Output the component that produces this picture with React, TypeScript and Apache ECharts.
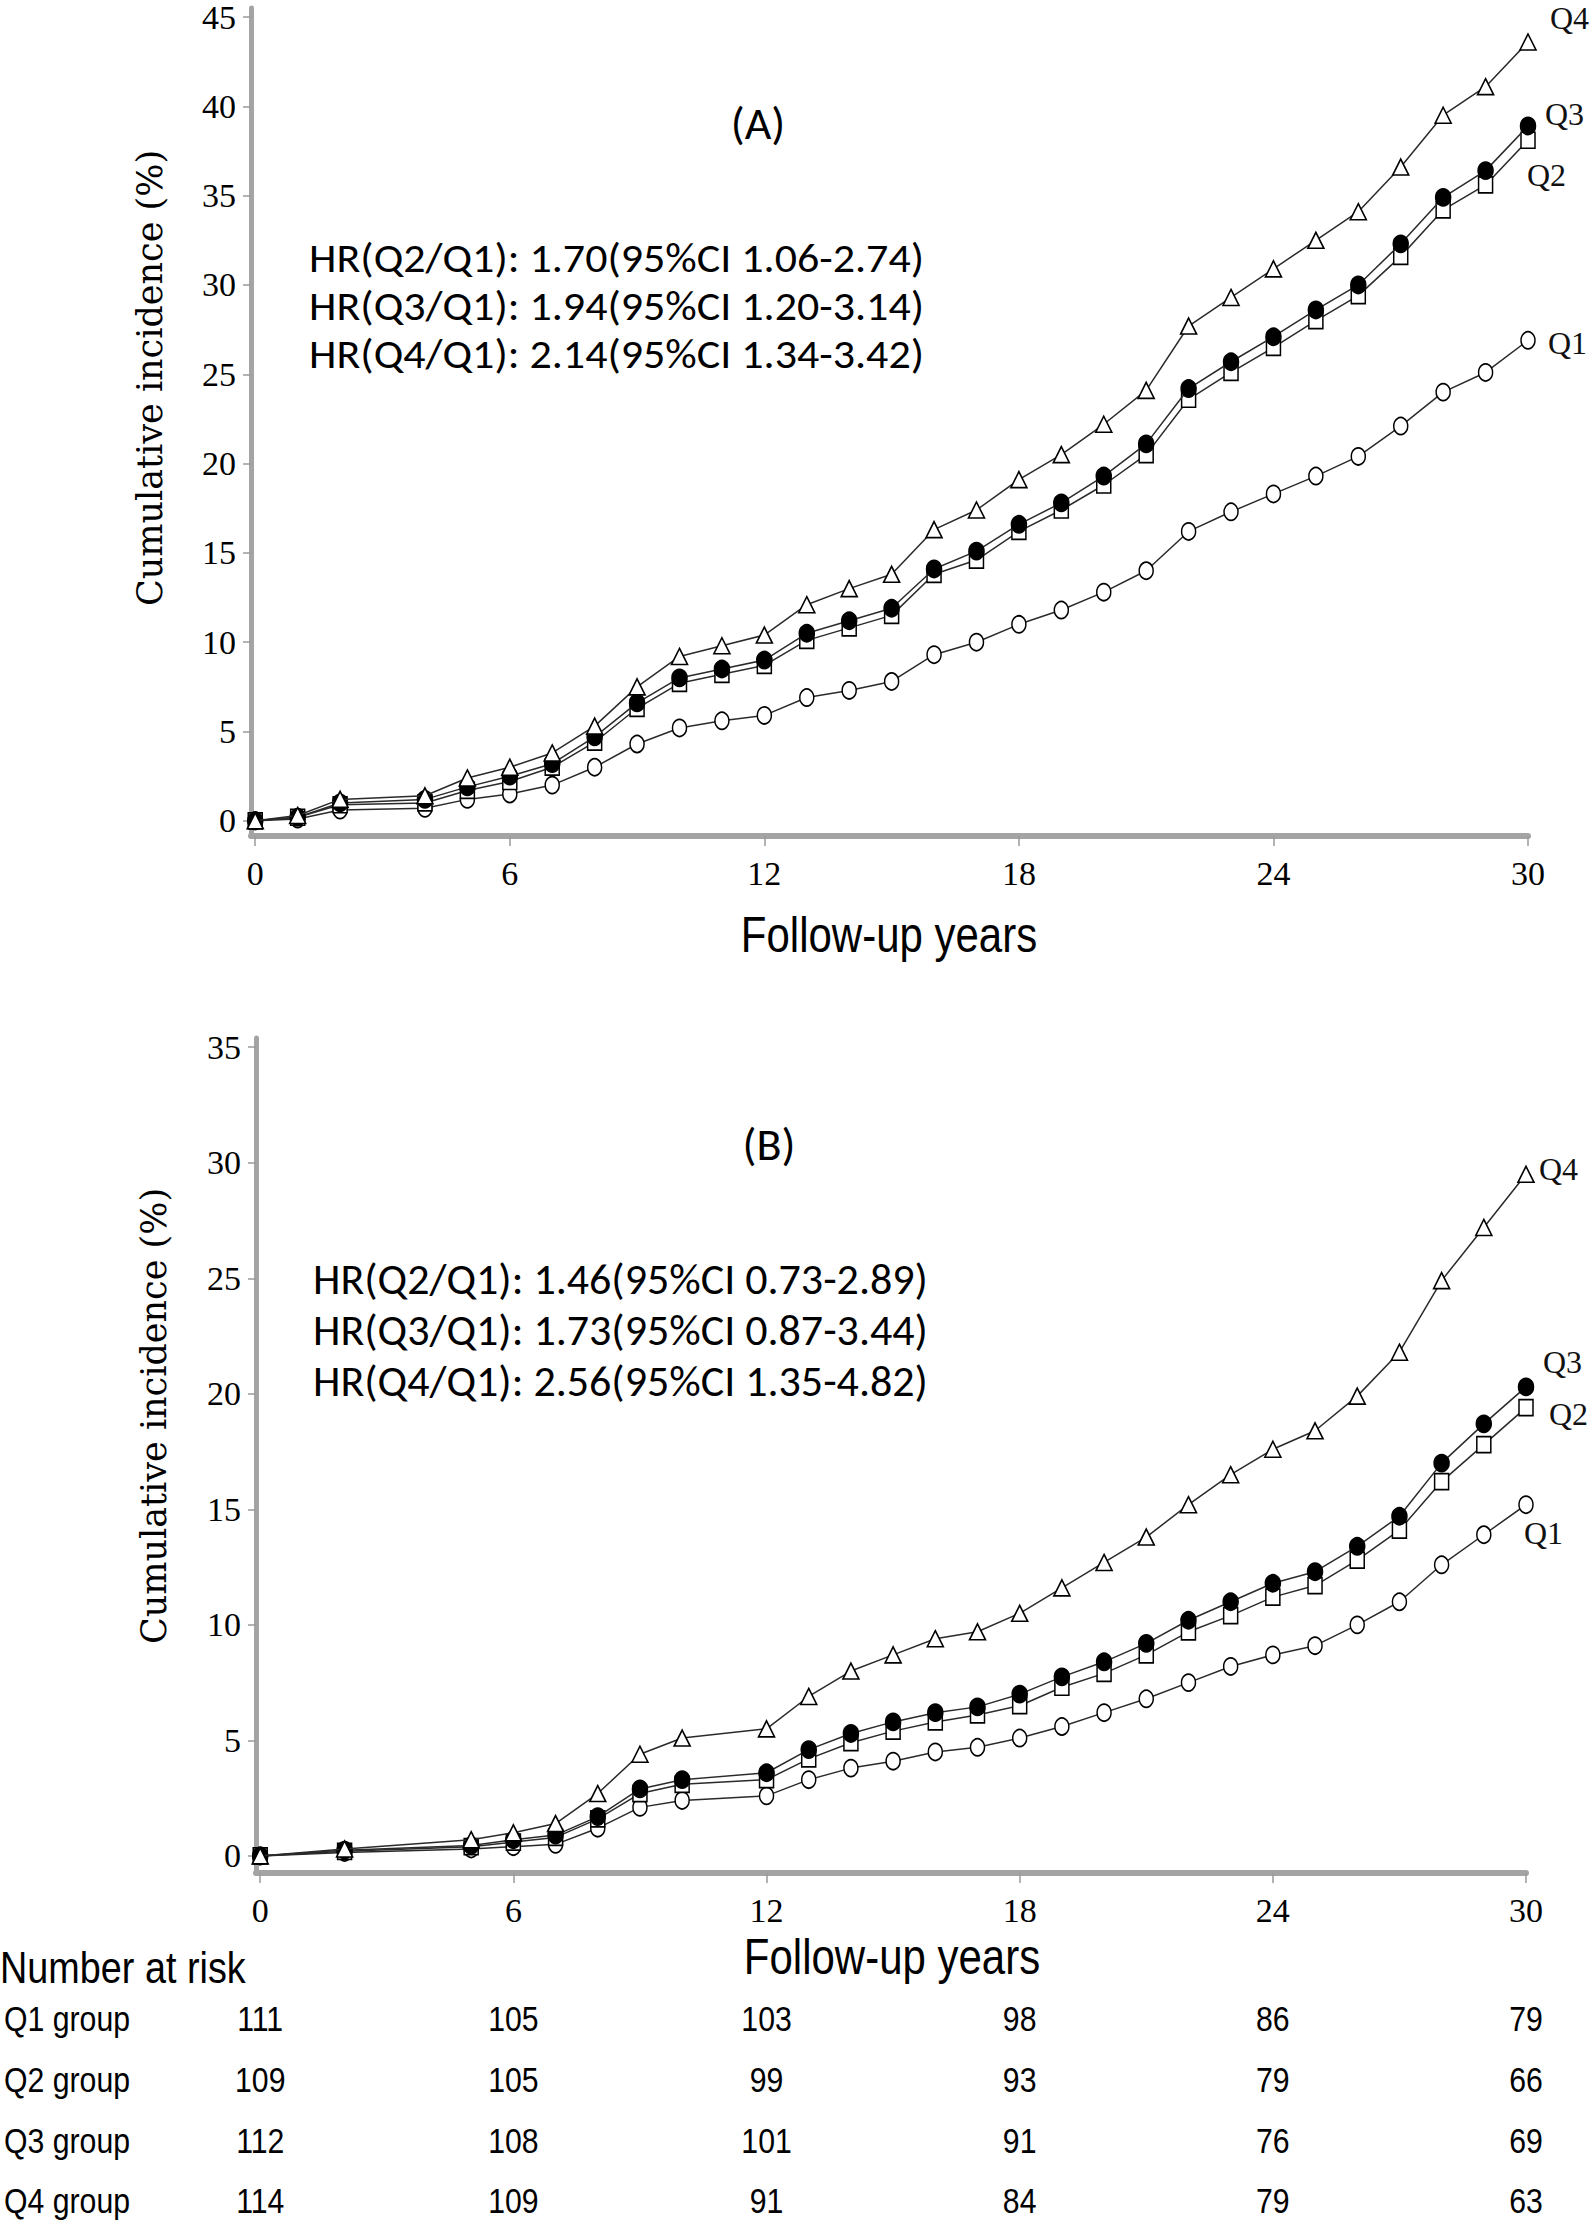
import React, { useEffect, useRef } from "react";
import * as echarts from "echarts";

// ---------------- data ----------------
const yearsA = [0, 1, 2, 4, 5, 6, 7, 8, 9, 10, 11, 12, 13, 14, 15, 16, 17, 18, 19, 20, 21, 22, 23, 24, 25, 26, 27, 28, 29, 30];
const q1A = [0, 0.1, 0.6, 0.7, 1.2, 1.5, 2.0, 3.0, 4.3, 5.2, 5.6, 5.9, 6.9, 7.3, 7.8, 9.3, 10.0, 11.0, 11.8, 12.8, 14.0, 16.2, 17.3, 18.3, 19.3, 20.4, 22.1, 24.0, 25.1, 26.9];
const q2A = [0, 0.2, 0.9, 1.0, 1.7, 2.2, 3.0, 4.4, 6.3, 7.7, 8.2, 8.7, 10.1, 10.8, 11.5, 13.8, 14.6, 16.2, 17.4, 18.8, 20.5, 23.6, 25.1, 26.5, 28.0, 29.4, 31.6, 34.2, 35.6, 38.1];
const q3A = [0, 0.2, 1.0, 1.2, 1.9, 2.5, 3.2, 4.7, 6.6, 8.0, 8.5, 9.0, 10.5, 11.2, 11.9, 14.1, 15.1, 16.6, 17.8, 19.3, 21.1, 24.2, 25.7, 27.1, 28.6, 30.0, 32.3, 34.9, 36.4, 38.9];
const q4A = [0, 0.3, 1.2, 1.4, 2.4, 3.0, 3.8, 5.3, 7.5, 9.2, 9.8, 10.4, 12.1, 13.0, 13.8, 16.3, 17.4, 19.1, 20.5, 22.2, 24.1, 27.7, 29.3, 30.9, 32.5, 34.1, 36.6, 39.5, 41.1, 43.6];

const yearsB = [0, 2, 5, 6, 7, 8, 9, 10, 12, 13, 14, 15, 16, 17, 18, 19, 20, 21, 22, 23, 24, 25, 26, 27, 28, 29, 30];
const q1B = [0, 0.15, 0.3, 0.4, 0.5, 1.2, 2.1, 2.4, 2.6, 3.3, 3.8, 4.1, 4.5, 4.7, 5.1, 5.6, 6.2, 6.8, 7.5, 8.2, 8.7, 9.1, 10.0, 11.0, 12.6, 13.9, 15.2];
const q2B = [0, 0.2, 0.4, 0.6, 0.8, 1.6, 2.7, 3.1, 3.3, 4.2, 4.9, 5.4, 5.8, 6.1, 6.5, 7.3, 7.9, 8.7, 9.7, 10.4, 11.2, 11.7, 12.8, 14.1, 16.2, 17.8, 19.4];
const q3B = [0, 0.25, 0.45, 0.7, 0.9, 1.7, 2.9, 3.3, 3.6, 4.6, 5.3, 5.8, 6.2, 6.45, 7.0, 7.75, 8.4, 9.2, 10.2, 11.0, 11.8, 12.3, 13.4, 14.7, 17.0, 18.7, 20.3];
const q4B = [0, 0.3, 0.7, 1.0, 1.4, 2.7, 4.4, 5.1, 5.5, 6.9, 8.0, 8.7, 9.4, 9.7, 10.5, 11.6, 12.7, 13.8, 15.2, 16.5, 17.6, 18.4, 19.9, 21.8, 24.9, 27.2, 29.5];

const groupNames = ["Q1", "Q2", "Q3", "Q4"];
const xTicks = [0, 6, 12, 18, 24, 30];
const yTicksA = [0, 5, 10, 15, 20, 25, 30, 35, 40, 45];
const yTicksB = [0, 5, 10, 15, 20, 25, 30, 35];

const hrTextA = [
  "HR(Q2/Q1): 1.70(95%CI 1.06-2.74)",
  "HR(Q3/Q1): 1.94(95%CI 1.20-3.14)",
  "HR(Q4/Q1): 2.14(95%CI 1.34-3.42)",
];
const hrTextB = [
  "HR(Q2/Q1): 1.46(95%CI 0.73-2.89)",
  "HR(Q3/Q1): 1.73(95%CI 0.87-3.44)",
  "HR(Q4/Q1): 2.56(95%CI 1.35-4.82)",
];

const riskYears = [0, 6, 12, 18, 24, 30];
const riskRowLabels = ["Q1 group", "Q2 group", "Q3 group", "Q4 group"];
const q1Risk = [111, 105, 103, 98, 86, 79];
const q2Risk = [109, 105, 99, 93, 79, 66];
const q3Risk = [112, 108, 101, 91, 76, 69];
const q4Risk = [114, 109, 91, 84, 79, 63];

// ---------------- styles ----------------
const SERIF = "'Liberation Serif', 'Times New Roman', serif";
const TITLE_SERIF = "'DejaVu Serif', 'Liberation Serif', serif";
const NARROW = "'Liberation Sans Narrow', 'Arial Narrow', 'Liberation Sans', Arial, sans-serif";
const SANS = "Carlito, Lato, 'Noto Sans', sans-serif";
const CONDENSE = 0.84;

const markers = [
  { symbol: "circle", size: [14, 17], fill: "#ffffff" },
  { symbol: "rect", size: [14, 16], fill: "#ffffff" },
  { symbol: "circle", size: [15, 17], fill: "#000000" },
  { symbol: "triangle", size: [16, 16], fill: "#ffffff" },
];

const endOffsetsA = [
  [12, 3],
  [-9, 35],
  [9, -12],
  [14, -24],
];
const endOffsetsB = [
  [-10, 28],
  [15, 6],
  [9, -25],
  [5, -5],
];

function pairs(xs: number[], ys: number[]) {
  return xs.map((x, i) => [x, ys[i]]);
}

function xAxisFor(gridIndex: number) {
  return {
    type: "value",
    gridIndex,
    min: -0.1,
    max: 30,
    axisLine: { show: true, onZero: false, lineStyle: { color: "#a4a4a4", width: 6 } },
    axisTick: { show: true, customValues: xTicks, length: 10, lineStyle: { color: "#9a9a9a", width: 1.5 } },
    axisLabel: { customValues: xTicks, margin: 20, fontFamily: SERIF, fontSize: 34, color: "#000" },
    splitLine: { show: false },
  };
}

function yAxisFor(gridIndex: number, min: number, max: number, ticks: number[]) {
  return {
    type: "value",
    gridIndex,
    min,
    max,
    axisLine: { show: true, onZero: false, lineStyle: { color: "#a4a4a4", width: 5 } },
    axisTick: { show: true, customValues: ticks, length: 8, lineStyle: { color: "#9a9a9a", width: 1.5 } },
    axisLabel: { customValues: ticks, margin: 15, fontFamily: SERIF, fontSize: 34, color: "#000" },
    splitLine: { show: false },
  };
}

function panelSeries(gridIdx: number, xs: number[], ys: number[][], offsets: number[][]) {
  return ys.map((vals, g) => ({
    type: "line",
    name: groupNames[g] + (gridIdx === 0 ? "A" : "B"),
    xAxisIndex: gridIdx,
    yAxisIndex: gridIdx,
    data: pairs(xs, vals),
    symbol: markers[g].symbol,
    symbolSize: markers[g].size,
    showAllSymbol: true,
    lineStyle: { color: "#2a2a2a", width: 1.5 },
    itemStyle: { color: markers[g].fill, borderColor: "#000", borderWidth: 1.6 },
    z: 3 + g,
    endLabel: {
      show: true,
      formatter: groupNames[g],
      distance: 8,
      offset: offsets[g],
      fontFamily: SERIF,
      fontSize: 32,
      color: "#111",
    },
  }));
}

export default function App() {
  const ref = useRef<HTMLDivElement>(null);

  useEffect(() => {
    if (!ref.current) return;
    const chart = echarts.init(ref.current, null, { renderer: "svg" });

    const riskRows = [q1Risk, q2Risk, q3Risk, q4Risk];
    const tableData = riskRows.map((row, r) => [0, r, ...row]);

    const textG = (x: number, y: number, text: string, font: string, size: number, align: string, extra: any = {}, lineHeight?: number) => ({
      type: "text",
      x,
      y,
      ...extra,
      style: {
        text,
        fontFamily: font,
        fontSize: size,
        fill: "#000",
        align,
        verticalAlign: "middle",
        ...(lineHeight ? { lineHeight } : {}),
      },
    });

    const hrGraphics: any[] = [];
    hrTextA.forEach((t, i) =>
      hrGraphics.push(textG(309, 258 + i * 48, t, SANS, 41, "left", { scaleX: 1.073 }, 41))
    );
    hrTextB.forEach((t, i) =>
      hrGraphics.push(textG(313, 1280 + i * 51, t, SANS, 43, "left", { scaleX: 1.023 }, 43))
    );

    const option: any = {
      animation: false,
      backgroundColor: "#ffffff",
      grid: [
        { left: 251, top: 8, width: 1277, height: 828 },
        { left: 256, top: 1038, width: 1270, height: 835 },
        { left: 256, top: 2019, width: 1270, height: 182 },
      ],
      xAxis: [
        xAxisFor(0),
        xAxisFor(1),
        { type: "value", gridIndex: 2, min: -0.1, max: 30, show: false },
      ],
      yAxis: [
        yAxisFor(0, -0.85, 45.5, yTicksA),
        yAxisFor(1, -0.74, 35.4, yTicksB),
        {
          type: "category",
          gridIndex: 2,
          data: riskRowLabels,
          inverse: true,
          boundaryGap: false,
          show: false,
        },
      ],
      series: [
        ...panelSeries(0, yearsA, [q1A, q2A, q3A, q4A], endOffsetsA),
        ...panelSeries(1, yearsB, [q1B, q2B, q3B, q4B], endOffsetsB),
        {
          type: "custom",
          coordinateSystem: "cartesian2d",
          xAxisIndex: 2,
          yAxisIndex: 2,
          data: tableData,
          encode: { x: 0, y: 1 },
          renderItem: (params: any, api: any) => {
            const r = api.value(1);
            const children: any[] = riskYears.map((yr, c) => {
              const pt = api.coord([yr, r]);
              return {
                type: "text",
                x: pt[0],
                y: pt[1],
                scaleX: CONDENSE,
                style: {
                  text: String(api.value(c + 2)),
                  fontFamily: NARROW,
                  fontSize: 36,
                  fill: "#000",
                  align: "center",
                  verticalAlign: "middle",
                },
              };
            });
            const p0 = api.coord([0, r]);
            children.push({
              type: "text",
              x: 4,
              y: p0[1],
              scaleX: CONDENSE,
              style: {
                text: riskRowLabels[r],
                fontFamily: NARROW,
                fontSize: 36,
                fill: "#000",
                align: "left",
                verticalAlign: "middle",
              },
            });
            return { type: "group", children };
          },
        },
      ],
      graphic: [
        textG(150, 378, "Cumulative incidence (%)", TITLE_SERIF, 35, "center", { rotation: Math.PI / 2 }),
        textG(154, 1416, "Cumulative incidence (%)", TITLE_SERIF, 35, "center", { rotation: Math.PI / 2 }),
        textG(758, 123, "(A)", SANS, 46, "center"),
        textG(769, 1144, "(B)", SANS, 46, "center"),
        textG(889, 935, "Follow-up years", NARROW, 50, "center", { scaleX: CONDENSE }),
        textG(892, 1957, "Follow-up years", NARROW, 50, "center", { scaleX: CONDENSE }),
        textG(0, 1967, "Number at risk", NARROW, 45, "left", { scaleX: CONDENSE }),
        ...hrGraphics,
      ],
    };

    chart.setOption(option);
    return () => chart.dispose();
  }, []);

  return (
    <div
      ref={ref}
      style={{ position: "absolute", left: 0, top: 0, width: 1592, height: 2220, background: "#fff" }}
    />
  );
}
